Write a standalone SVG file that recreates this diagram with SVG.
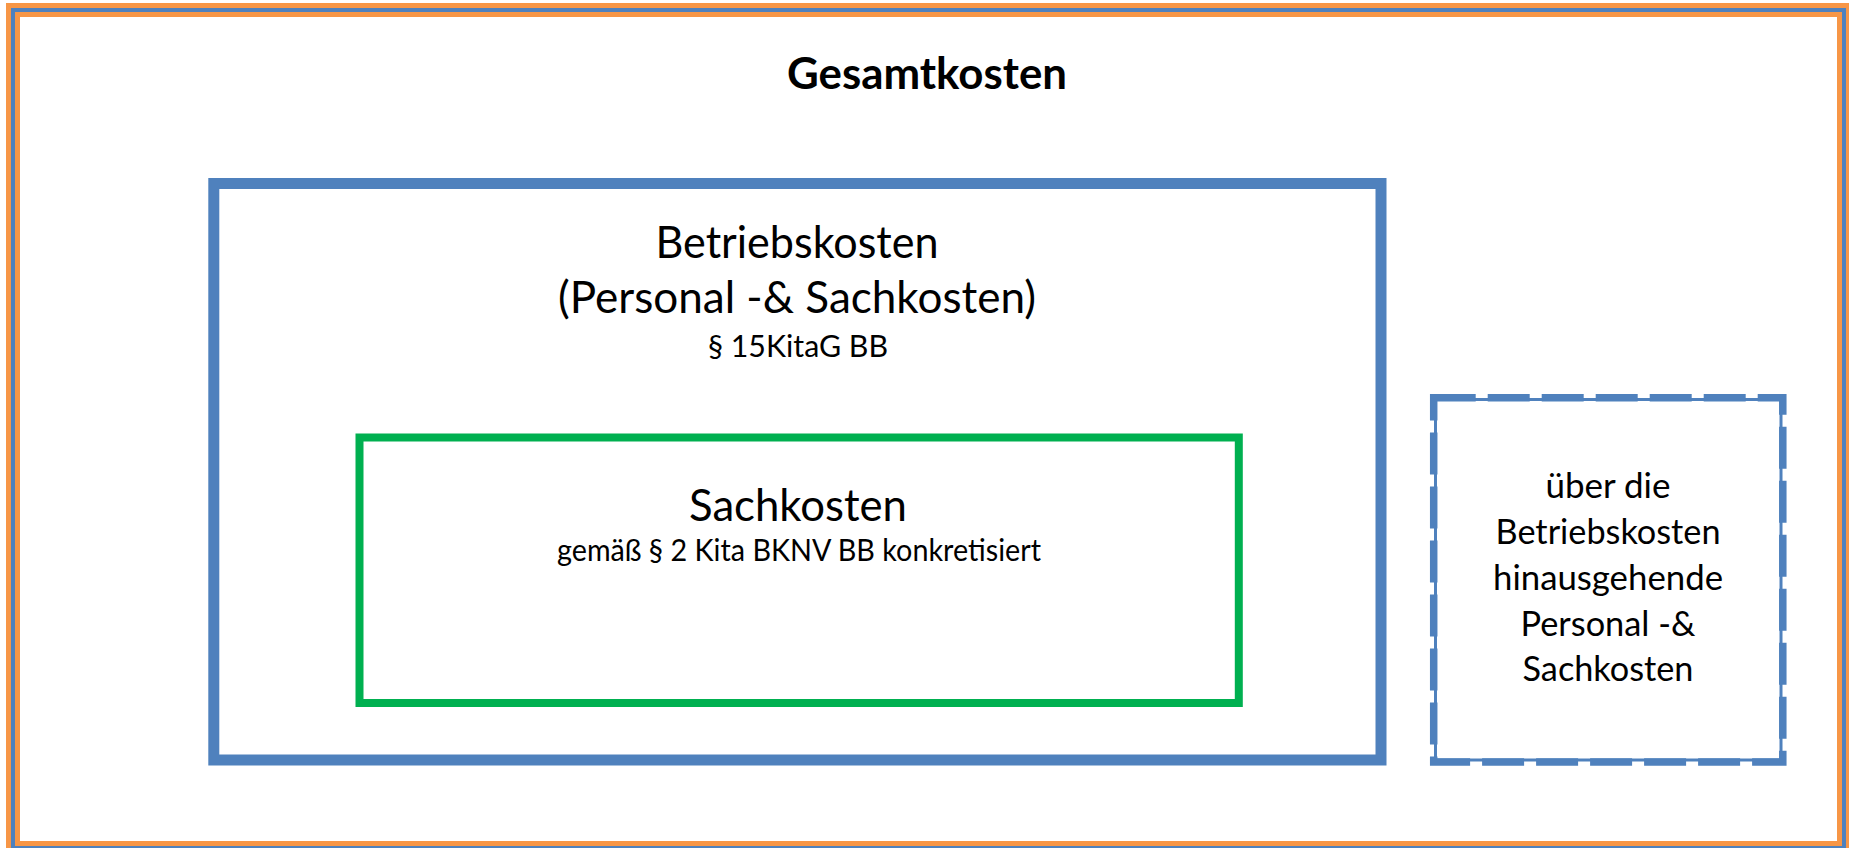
<svg xmlns="http://www.w3.org/2000/svg" width="1849" height="848" viewBox="0 0 1849 848">
<style>
.t{font-family:Lato,"Open Sans","Liberation Sans",sans-serif;fill:#000;text-anchor:middle}
.big{font-size:44px}
.small{font-size:30px}
.mid{font-size:35px}
.frame-o{fill:none;stroke:#F79646;stroke-width:14}
.frame-b{fill:none;stroke:#4F81BD;stroke-width:4}
.blue{fill:none;stroke:#4F81BD;stroke-width:11;stroke-linejoin:miter}
.green{fill:none;stroke:#00B050;stroke-width:8;stroke-linejoin:miter}
.dash{fill:none;stroke:#4F81BD;stroke-width:7.5;stroke-dasharray:42 12}
.dash2{fill:none;stroke:#4F81BD;stroke-width:3}
</style>
<rect x="0" y="0" width="1849" height="848" fill="#fff"/>
<g id="gesamtkosten">
<rect class="frame-o" x="13" y="10" width="1831" height="838"/>
<rect class="frame-b" x="13" y="10" width="1831" height="838"/>
<text class="t big" x="927" y="89" font-weight="bold" textLength="280" lengthAdjust="spacingAndGlyphs">Gesamtkosten</text>
</g>
<g id="betriebskosten">
<rect class="blue" x="213.8" y="183.5" width="1167.2" height="576.5"/>
<text class="t big" x="797" y="258" textLength="283" lengthAdjust="spacingAndGlyphs">Betriebskosten</text>
<text class="t big" x="797" y="313" textLength="478" lengthAdjust="spacingAndGlyphs">(Personal -&amp; Sachkosten)</text>
<text class="t small" x="798" y="357" textLength="180" lengthAdjust="spacingAndGlyphs">§ 15KitaG BB</text>
</g>
<g id="sachkosten">
<rect class="green" x="359.5" y="437.5" width="879.3" height="265.5"/>
<text class="t big" x="798" y="521" textLength="218" lengthAdjust="spacingAndGlyphs">Sachkosten</text>
<text class="t small" x="799" y="561" textLength="484" lengthAdjust="spacingAndGlyphs">gemäß § 2 Kita BKNV BB konkretisiert</text>
</g>
<g id="weitere-kosten">
<rect class="dash2" x="1435.5" y="399.5" width="345.5" height="360.5"/>
<rect class="dash" x="1433.7" y="397.8" width="349.1" height="364.2"/>
<text class="t mid" x="1608" y="498" textLength="125" lengthAdjust="spacingAndGlyphs">über die</text>
<text class="t mid" x="1608" y="544" textLength="225" lengthAdjust="spacingAndGlyphs">Betriebskosten</text>
<text class="t mid" x="1608" y="590" textLength="230" lengthAdjust="spacingAndGlyphs">hinausgehende</text>
<text class="t mid" x="1608" y="636" textLength="175" lengthAdjust="spacingAndGlyphs">Personal -&amp;</text>
<text class="t mid" x="1608" y="681" textLength="171" lengthAdjust="spacingAndGlyphs">Sachkosten</text>
</g>
<g id="connectors"/>
</svg>
